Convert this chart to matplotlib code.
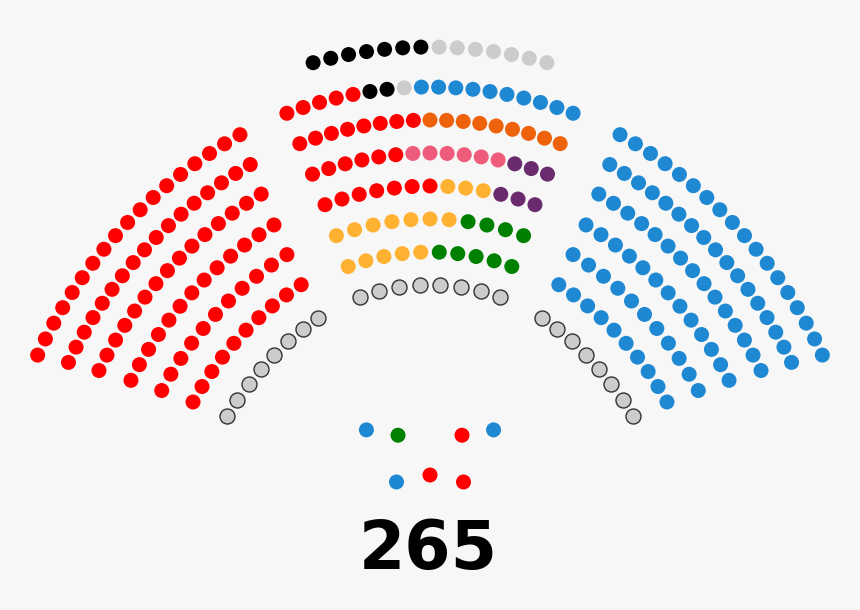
import numpy as np
import matplotlib
matplotlib.use("Agg")
import matplotlib.pyplot as plt

# ---------------- data ----------------
total_label = "265"

party_colors = {
    "red": "#FF0000",
    "blue": "#1E88D2",
    "black": "#000000",
    "grey": "#CCCCCC",
    "orange": "#EE620C",
    "pink": "#EF5B7A",
    "purple": "#692B6D",
    "yellow": "#FFB232",
    "green": "#008000",
    "vacant": "#CCCCCC",
}

# left wing: rows from outermost to innermost
left_rows_party = ["red", "red", "red", "red", "red", "red", "vacant"]
left_rows_count = [18, 17, 15, 13, 11, 10, 8]

# right wing: rows from outermost to innermost
right_rows_party = ["blue", "blue", "blue", "blue", "blue", "blue", "vacant"]
right_rows_count = [18, 17, 15, 13, 11, 10, 8]

# centre block: rows from top to bottom, parties left to right
center_row_1 = [("black", 7), ("grey", 7)]
center_row_2 = [("red", 5), ("black", 2), ("grey", 1), ("blue", 10)]
center_row_3 = [("red", 8), ("orange", 9)]
center_row_4 = [("red", 6), ("pink", 6), ("purple", 3)]
center_row_5 = [("red", 7), ("yellow", 3), ("purple", 3)]
center_row_6 = [("yellow", 7), ("green", 4)]
center_row_7 = [("yellow", 5), ("green", 5)]
center_row_8 = [("vacant", 8)]
center_rows = [center_row_1, center_row_2, center_row_3, center_row_4,
               center_row_5, center_row_6, center_row_7, center_row_8]

# presiding table
presidium_top = ["blue", "green", "red", "blue"]
presidium_bottom = ["blue", "red", "red"]

# ---------------- layout ----------------
W, H = 860, 610
DOT_D = 15.0  # px
BG = "#F7F7F7"

fig = plt.figure(figsize=(W / 100, H / 100), dpi=100, facecolor=BG)
ax = fig.add_axes([0, 0, 1, 1])
ax.set_facecolor(BG)
ax.set_xlim(0, W)
ax.set_ylim(H, 0)
ax.set_aspect("equal")
ax.axis("off")


def arc(cx, cy, r, angles_deg):
    a = np.radians(np.asarray(angles_deg, dtype=float))
    return cx + r * np.cos(a), cy - r * np.sin(a)


seats_x, seats_y, seats_p = [], [], []


def add(xs, ys, parties):
    seats_x.extend(xs)
    seats_y.extend(ys)
    seats_p.extend(parties)


# centre block
C_CX, C_CY = 430, 490
c_radii = [443, 403, 370, 337, 304, 271, 238, 205]
c_half = [15.3, 20.8, 20.6, 20.4, 20.2, 20.2, 20.1, 20.1]
for row, r, h in zip(center_rows, c_radii, c_half):
    parties = [p for p, n in row for _ in range(n)]
    ang = np.linspace(90 + h, 90 - h, len(parties))
    xs, ys = arc(C_CX, C_CY, r, ang)
    add(xs, ys, parties)

# wings
w_radii = [488, 457, 426, 393, 361, 328, 291]
L_CX, L_CY = 481, 559
R_CX, R_CY = 2 * C_CX - L_CX, 559
for i, (r, p, n) in enumerate(zip(w_radii, left_rows_party, left_rows_count)):
    a0 = 155.3 - 0.78 * i
    a1 = 119.6 + 0.73 * i
    ang = np.linspace(a0, a1, n)
    xs, ys = arc(L_CX, L_CY, r, ang)
    add(xs, ys, [p] * n)
for i, (r, p, n) in enumerate(zip(w_radii, right_rows_party, right_rows_count)):
    a0 = 180 - (155.3 - 0.78 * i)
    a1 = 180 - (119.6 + 0.73 * i)
    ang = np.linspace(a0, a1, n)
    xs, ys = arc(R_CX, R_CY, r, ang)
    add(xs, ys, [p] * n)

# presidium
top_ang = [-90 - 12.8, -90 - 6.4, -90 + 6.4, -90 + 12.8]
xs, ys = arc(430, 150, 287, top_ang)
add(xs, ys, presidium_top)
bot_ang = [90 + 23.5, 90, 90 - 23.5]
xs, ys = arc(430, 559, 84, bot_ang)
add(xs, ys, presidium_bottom)

seats_x = np.array(seats_x)
seats_y = np.array(seats_y)
seats_p = np.array(seats_p)

s = (DOT_D * 72 / 100) ** 2
for party, col in party_colors.items():
    m = seats_p == party
    if not m.any():
        continue
    if party == "vacant":
        ax.scatter(seats_x[m], seats_y[m], s=s, c=col, edgecolors="#333333",
                   linewidths=1.0, zorder=3)
    else:
        ax.scatter(seats_x[m], seats_y[m], s=s, c=col, edgecolors="none", zorder=3)

ax.text(428, 568.5, total_label, ha="center", va="baseline", fontsize=48,
        fontweight="bold", family="DejaVu Sans", color="black")

fig.savefig("out.png", dpi=100, facecolor=BG)
